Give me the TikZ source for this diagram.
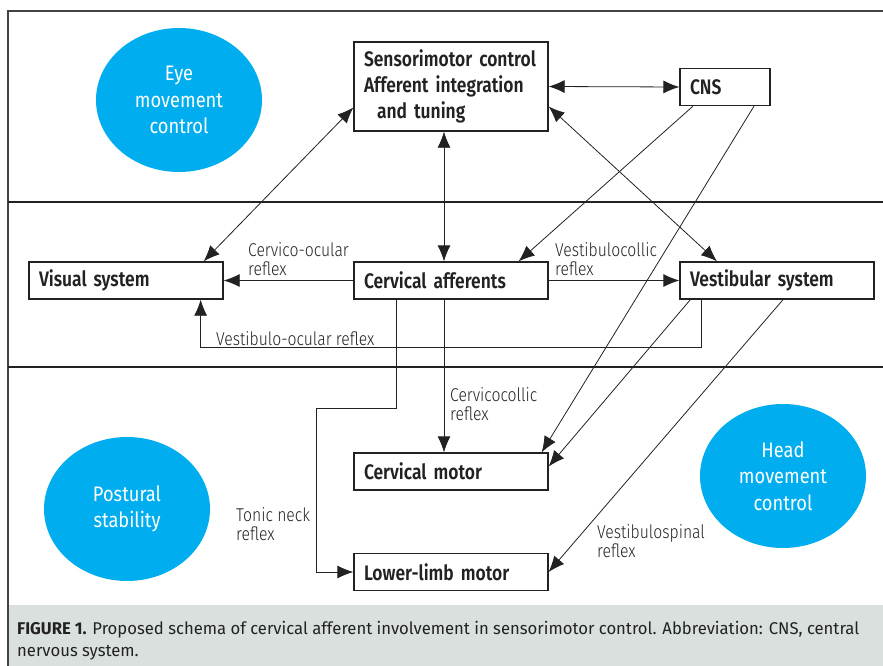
\documentclass[tikz,border=0pt]{standalone}
\usepackage{fontspec}
\setmainfont{Fira Sans}[FakeStretch=0.83, BoldFont={Fira Sans SemiBold}]
\newfontfamily\lightfont{Fira Sans Light}[FakeStretch=0.85]
\newfontfamily\blobfont{Fira Sans}[FakeStretch=0.87]
\newfontfamily\capfont{Fira Sans}[FakeStretch=0.98, BoldFont={Fira Sans Bold}]
\usetikzlibrary{arrows.meta,shapes.geometric}
\definecolor{eyeblue}{HTML}{00AEEF}
\definecolor{capbg}{HTML}{D9E0DD}
\definecolor{ink}{HTML}{222222}

\tikzstyle{box}=[draw=ink, line width=1.3pt, minimum height=37pt, inner xsep=10pt, inner ysep=0pt, text width=174pt, align=left, text=ink, font=\bfseries\fontsize{21}{26}\selectfont]
\tikzstyle{blob}=[ellipse, fill=eyeblue, minimum width=166pt, minimum height=144pt, inner sep=0pt, align=center, text=white, font=\blobfont\fontsize{21}{26.5}\selectfont]
\tikzstyle{lbl}=[anchor=north west, inner sep=0pt, align=left, text=ink, font=\lightfont\fontsize{18.5}{19}\selectfont]
\tikzstyle{arrow}=[draw=ink, line width=0.8pt, -{Latex[length=16pt,width=13pt]}]
\tikzstyle{dblarrow}=[arrow, {Latex[length=16pt,width=13pt]}-{Latex[length=16pt,width=13pt]}]
\tikzstyle{sep}=[draw=ink, line width=2.6pt]

\begin{document}
\begin{tikzpicture}[x=1pt, y=-1pt]
      \useasboundingbox (0,0) rectangle (883,666);
      \fill[capbg] (9,605) rectangle (883,666);
      \draw[draw=ink!85, line width=1.8pt] (8,666) -- (8,11) -- (883,11);
      \draw[sep] (8,202) -- (883,202);
      \draw[sep] (8,367) -- (883,367);

      \node[blob] (eye) at (179,100) {Eye\\movement\\control};
      \node[blob] (post) at (127,509) {Postural\\stability};
      \node[blob] (head) at (783,476) {Head\\movement\\control};

      \node[box, minimum height=89pt] (sm) at (451,86.5) {Sensorimotor control\\Afferent integration\\\hspace*{13pt}and tuning};
      \node[box, text width=70pt] (cns) at (725,87) {CNS};
      \node[box] (vis) at (126,280.5) {Visual system};
      \node[box] (ca) at (451,280.5) {Cervical afferents};
      \node[box] (vest) at (777,280.5) {Vestibular system};
      \node[box] (cm) at (451,471.5) {Cervical motor};
      \node[box] (ll) at (451,572) {Lower-limb motor};

      \draw[dblarrow] (sm.east) to (cns.west);
      \draw[dblarrow] ([xshift=-7pt]sm.south) to ([xshift=-7pt]ca.north);
      \draw[dblarrow] ([yshift=-21pt]sm.west) to ([xshift=-20pt]vis.north east);
      \draw[dblarrow] ([yshift=-20pt]sm.east) to ([xshift=-60pt]vest.north);
      \draw[arrow] ([xshift=-32pt]cns.south) to ([xshift=-30pt]ca.north east);
      \draw[arrow] ([xshift=29pt]cns.south) to ([xshift=-7pt]cm.north east);
      \draw[arrow] (ca.west) to (vis.east);
      \draw[arrow] (ca.east) to (vest.west);
      \draw[arrow] ([xshift=22pt]vest.south west) -- ++(0,48) -| ([xshift=-23pt]vis.south east);
      \draw[arrow] ([xshift=-7pt]ca.south) to ([xshift=-7pt]cm.north);
      \draw[arrow] ([xshift=-55pt]ca.south) -- ++(0,109) -- ++(-80,0) |- (ll.west);
      \draw[arrow] ([xshift=11pt]vest.south west) to ([yshift=5pt]cm.east);
      \draw[arrow] ([xshift=6pt]vest.south) to (ll.east);

      \node[lbl] (colbl) at (248,242) {Cervico-ocular\\reflex};
      \node[lbl] (vcrlbl) at (555,242) {Vestibulocollic\\reflex};
      \node[lbl] (vorlbl) at (216,331) {Vestibulo-ocular reflex};
      \node[lbl] (ccrlbl) at (450,387) {Cervicocollic\\reflex};
      \node[lbl] (tnrlbl) at (236,507) {Tonic neck\\reflex};
      \node[lbl] (vsrlbl) at (597,524) {Vestibulospinal\\reflex};

      \node[anchor=north west, inner sep=0pt, align=left, text=ink, font=\capfont\fontsize{17}{22}\selectfont] (cap) at (17,621)
        {\textbf{FIGURE 1.} Proposed schema of cervical afferent involvement in sensorimotor control. Abbreviation: CNS, central\\nervous system.};
\end{tikzpicture}
\end{document}
